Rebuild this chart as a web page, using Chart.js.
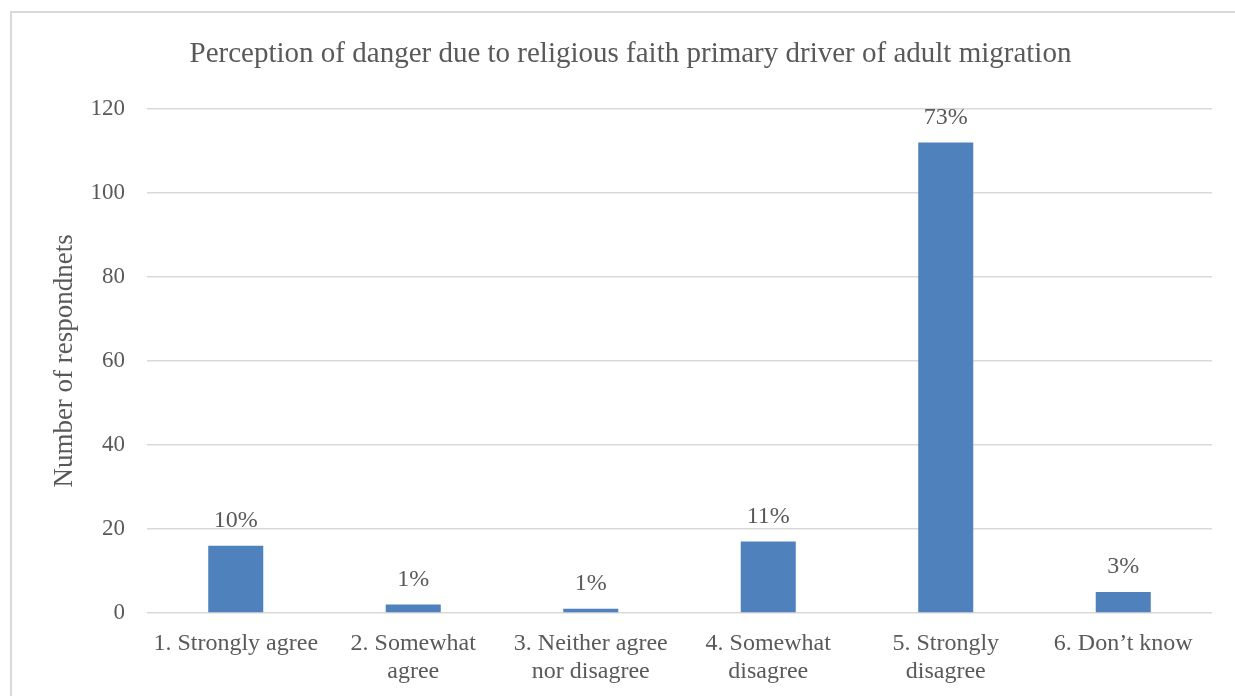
<!DOCTYPE html>
<html>
<head>
<meta charset="utf-8">
<script src="https://cdn.jsdelivr.net/npm/chart.js@4"></script>
<style>
  html, body { margin: 0; padding: 0; background: #fff; overflow: hidden; }
  .frame { position: absolute; left: 10px; top: 11px; width: 1300px; height: 800px; border: 2px solid #d9d9d9; box-sizing: border-box; }
  .graph { position: absolute; left: 0; top: 0; width: 1256px; height: 696px; }
</style>
</head>
<body>
<div class="frame"></div>
<div class="graph"><canvas id="myChart"></canvas></div>
<script>
const categories = [
  ['1. Strongly agree'],
  ['2. Somewhat', 'agree'],
  ['3. Neither agree', 'nor disagree'],
  ['4. Somewhat', 'disagree'],
  ['5. Strongly', 'disagree'],
  ['6. Don\u2019t know'],
];
const respondents = [16, 2, 1, 17, 112, 5];
const shareLabels = ['10%', '1%', '1%', '11%', '73%', '3%'];
const yTicks = [0, 20, 40, 60, 80, 100, 120];

const textColor = '#595959';
const serif = 'Liberation Serif, Times New Roman, serif';

// writes the share of respondents above each bar
const shareLabelPlugin = {
  id: 'shareLabels',
  afterDatasetsDraw(chart) {
    const ctx = chart.ctx;
    const meta = chart.getDatasetMeta(0);
    ctx.save();
    ctx.font = '24px ' + serif;
    ctx.fillStyle = textColor;
    ctx.textAlign = 'center';
    ctx.textBaseline = 'middle';
    meta.data.forEach((bar, i) => {
      ctx.fillText(shareLabels[i], bar.x, bar.y - 25);
    });
    ctx.restore();
  }
};

const ctx = document.getElementById('myChart').getContext('2d');
new Chart(ctx, {
  type: 'bar',
  data: {
    labels: categories,
    datasets: [{
      data: respondents,
      backgroundColor: '#4f81bd',
      borderWidth: 0,
      categoryPercentage: 0.31,
      barPercentage: 1,
    }],
  },
  options: {
    responsive: true,
    maintainAspectRatio: false,
    animation: false,
    layout: { padding: { left: 49, right: 44, top: 0, bottom: 0 } },
    plugins: {
      legend: { display: false },
      tooltip: { enabled: false },
      title: {
        display: true,
        text: 'Perception of danger due to religious faith primary driver of adult migration',
        color: textColor,
        font: { family: serif, size: 29, weight: 'normal' },
        padding: { top: 37, bottom: 37 },
      },
    },
    scales: {
      x: {
        grid: { display: false },
        border: { display: false },
        ticks: {
          color: textColor,
          font: { family: serif, size: 24 },
          padding: 8,
          maxRotation: 0,
          autoSkip: false,
        },
        afterFit: s => { s.height = 83; },
      },
      y: {
        min: 0,
        max: 120,
        afterBuildTicks: s => { s.ticks = yTicks.map(v => ({ value: v })); },
        grid: { color: '#d9d9d9', lineWidth: 1.5, drawTicks: false },
        border: { display: false },
        ticks: {
          color: textColor,
          font: { family: serif, size: 23 },
          padding: 22,
        },
        title: {
          display: true,
          text: 'Number of respondnets',
          color: textColor,
          font: { family: serif, size: 27 },
          padding: 0,
        },
        afterFit: s => { s.width = 98; },
      },
    },
  },
  plugins: [shareLabelPlugin],
});
</script>
</body>
</html>
